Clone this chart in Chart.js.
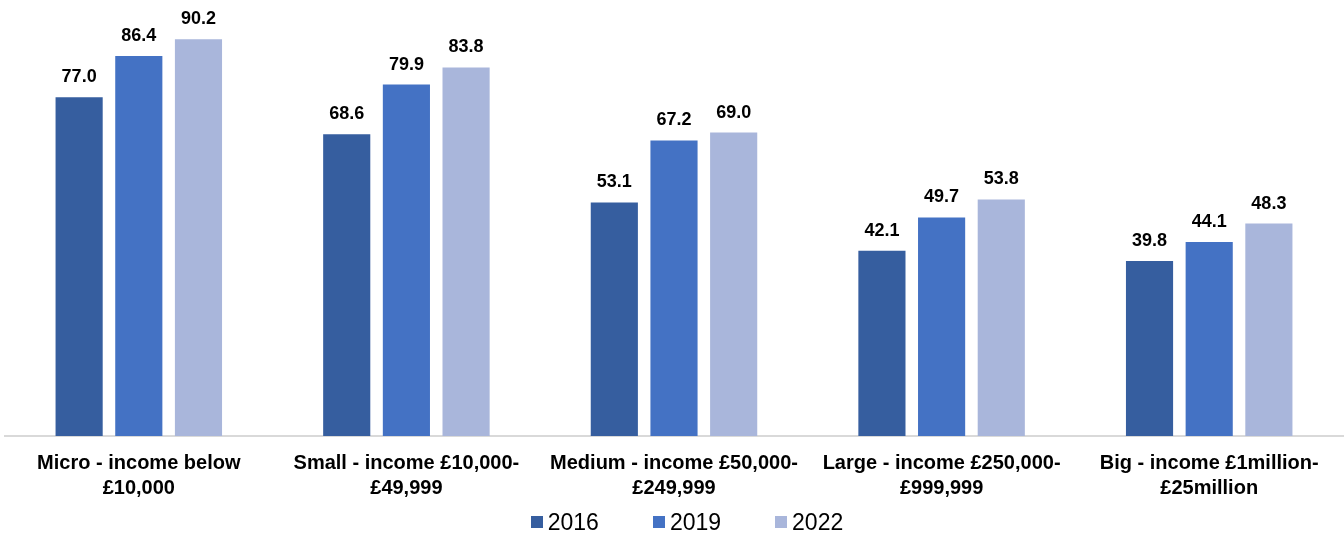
<!DOCTYPE html>
<html>
<head>
<meta charset="utf-8">
<script src="https://cdn.jsdelivr.net/npm/chart.js@4.4.1/dist/chart.umd.min.js"></script>
<style>
  html, body { margin: 0; padding: 0; background: #fff; }
  #wrap { position: relative; width: 1344px; height: 536px; }
  #legend {
    position: absolute; left: 30px; right: 0; top: 508px; height: 28px;
    display: flex; justify-content: center; align-items: center;
    font-family: "Liberation Sans", Arial, sans-serif; font-size: 23px; color: #000;
  }
  #legend .item { display: flex; align-items: center; margin: 0 27px; }
  #legend .box { width: 12px; height: 12px; margin-right: 5px; }
</style>
</head>
<body>
<div id="wrap">
  <canvas id="sizeChart" width="1344" height="536"></canvas>
  <div id="legend"></div>
</div>
<script>
// Categories and series
const categories = [
    ['Micro - income below', '£10,000'],
    ['Small - income £10,000-', '£49,999'],
    ['Medium - income £50,000-', '£249,999'],
    ['Large - income £250,000-', '£999,999'],
    ['Big - income £1million-', '£25million']
];
const years = ['2016', '2019', '2022'];
const values2016 = [77.0, 68.6, 53.1, 42.1, 39.8];
const values2019 = [86.4, 79.9, 67.2, 49.7, 44.1];
const values2022 = [90.2, 83.8, 69.0, 53.8, 48.3];
const colours = ['#365E9F', '#4472C4', '#A9B6DB'];

const fontFamily = '"Liberation Sans", Arial, sans-serif';

// Value labels above each bar
const valueLabels = {
    id: 'valueLabels',
    afterDatasetsDraw(chart) {
        const ctx = chart.ctx;
        ctx.save();
        ctx.font = 'bold 18px ' + fontFamily;
        ctx.fillStyle = '#000';
        ctx.textAlign = 'center';
        ctx.textBaseline = 'alphabetic';
        chart.data.datasets.forEach(function (ds, i) {
            chart.getDatasetMeta(i).data.forEach(function (bar, j) {
                ctx.fillText(ds.data[j].toFixed(1), bar.x, bar.y - 15);
            });
        });
        ctx.restore();
    }
};

document.addEventListener('DOMContentLoaded', function () {
    const seriesValues = [values2016, values2019, values2022];

    new Chart(document.getElementById('sizeChart'), {
        type: 'bar',
        data: {
            labels: categories,
            datasets: years.map(function (y, i) {
                return {
                    label: y,
                    data: seriesValues[i],
                    backgroundColor: colours[i],
                    borderWidth: 0,
                    categoryPercentage: 0.669,
                    barPercentage: 0.79
                };
            })
        },
        options: {
            responsive: false,
            animation: false,
            layout: { padding: { top: 5, left: 5, right: 1, bottom: 28 } },
            plugins: {
                legend: { display: false },
                tooltip: { enabled: false }
            },
            scales: {
                x: {
                    grid: { display: false },
                    border: { color: '#D9D9D9', width: 2 },
                    ticks: {
                        color: '#000',
                        font: { family: fontFamily, size: 20, weight: 'bold', lineHeight: 1.25 },
                        maxRotation: 0,
                        minRotation: 0,
                        autoSkip: false,
                        padding: 7
                    }
                },
                y: {
                    display: false,
                    min: 0,
                    max: 98
                }
            }
        },
        plugins: [valueLabels]
    });

    // Legend below the chart
    const legend = document.getElementById('legend');
    years.forEach(function (y, i) {
        const item = document.createElement('div');
        item.className = 'item';
        const box = document.createElement('span');
        box.className = 'box';
        box.style.background = colours[i];
        item.appendChild(box);
        item.appendChild(document.createTextNode(y));
        legend.appendChild(item);
    });
});
</script>
</body>
</html>
